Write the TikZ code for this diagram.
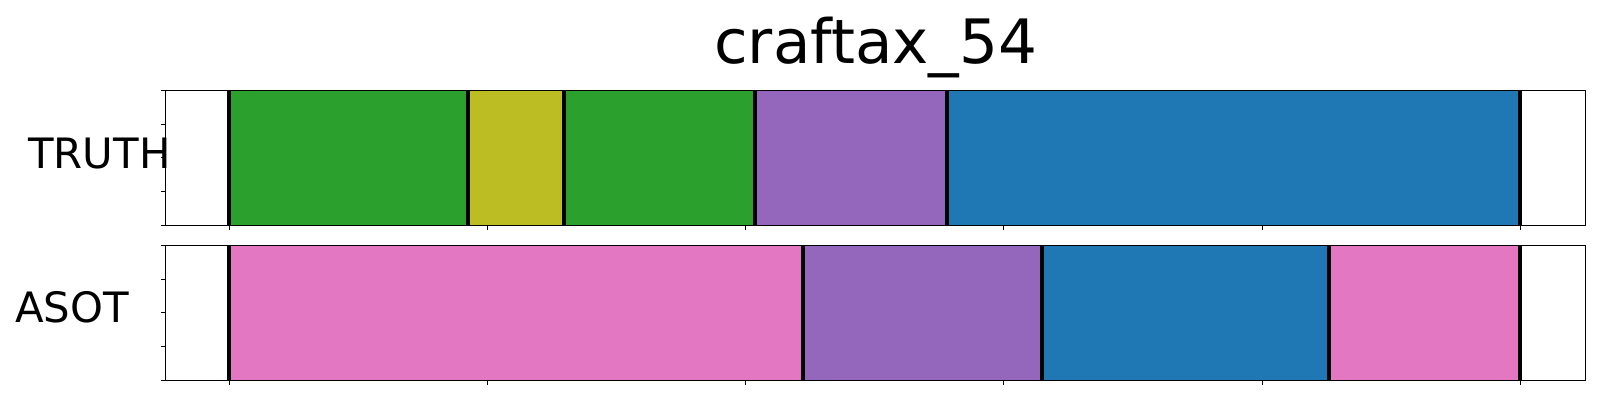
\documentclass[tikz,border=0pt]{standalone}
\usepackage{fontspec}
\setmainfont{DejaVu Sans}
\definecolor{tabGreen}{HTML}{2CA02C}
\definecolor{tabOlive}{HTML}{BCBD22}
\definecolor{tabPurple}{HTML}{9467BD}
\definecolor{tabBlue}{HTML}{1F77B4}
\definecolor{tabPink}{HTML}{E377C2}
\tikzstyle{plotArea} = [x = 0.01cm, y = -0.01cm]
\tikzstyle{axisFrame} = [color=black, line width=0.3pt]
\tikzstyle{tickLine} = [color=black, line width=0.3pt]
\tikzstyle{boundaryLine} = [color=black, line width=1.15pt]
\tikzstyle{titleText} = [font=\fontsize{17.4}{20}\selectfont, anchor=base, inner sep=0]
\tikzstyle{rowLabel} = [font=\fontsize{11.9}{14}\selectfont, anchor=base west, inner sep=0]
\newcommand{\axLeft}{165.7}
\newcommand{\rowHeight}{135}
\newcommand{\segment}[4]{\fill [#4] (#1, #2) rectangle (#3, #2 + \rowHeight);}
\newcommand{\boundary}[2]{\draw [boundaryLine] (#1, #2) -- + (0, \rowHeight);}
\newcommand{\axisBox}[1]{
  \draw [axisFrame] (\axLeft, #1) rectangle + (1420, \rowHeight);
  \foreach \tick in {0,...,4} {
    \draw [tickLine] (\axLeft, #1 + \tick * 33.75) -- + (-5, 0);
  }
  \foreach \tick in {0,...,5} {
    \draw [tickLine] (229.3 + \tick * 258.2, #1 + \rowHeight) -- + (0, 5);
  }
}

\begin{document}
\begin{tikzpicture}[plotArea]
  \useasboundingbox (0, 0) rectangle (1600, 400);

  \node (title) [titleText] at (875.7, 63.3) {craftax\_54};

  % truth row
  \segment{229.3}{90.3}{468}{tabGreen}\segment{468}{90.3}{564}{tabOlive}\segment{564}{90.3}{755}{tabGreen}\segment{755}{90.3}{947}{tabPurple}\segment{947}{90.3}{1520.3}{tabBlue}
  \foreach \pos in {229.3, 468, 564, 755, 947, 1520.3} {
    \boundary{\pos}{90.3}
  }
  \axisBox{90.3}
  \node (truthLabel) [rowLabel] at (27.5, 168.3) {TRUTH};

  % asot row
  \segment{229.3}{245.3}{803}{tabPink}\segment{803}{245.3}{1041.7}{tabPurple}\segment{1041.7}{245.3}{1329}{tabBlue}\segment{1329}{245.3}{1520.3}{tabPink}
  \foreach \pos in {229.3, 803, 1041.7, 1329, 1520.3} {
    \boundary{\pos}{245.3}
  }
  \axisBox{245.3}
  \node (asotLabel) [rowLabel] at (14.5, 322.7) {ASOT};
\end{tikzpicture}
\end{document}
